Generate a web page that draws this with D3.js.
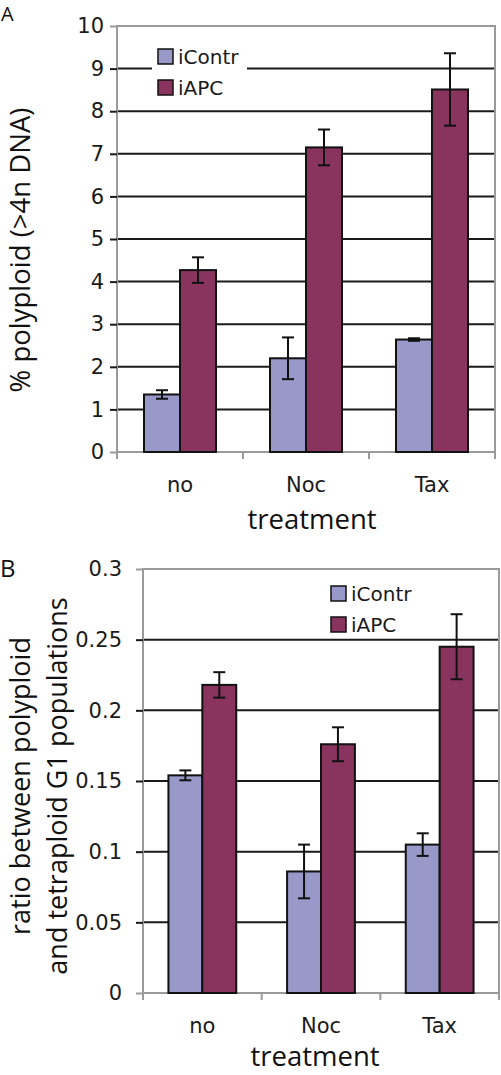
<!DOCTYPE html>
<html><head><meta charset="utf-8">
<script src="https://cdn.jsdelivr.net/npm/d3@7/dist/d3.min.js"></script>
<style>html,body{margin:0;padding:0;background:#fff;}svg{display:block;}</style>
</head><body>
<script>
// ---- data ----
const categories = ["no", "Noc", "Tax"];
const seriesNames = ["iContr", "iAPC"];
const seriesColors = ["#9898c9", "#89345f"];

// Panel A: % polyploid (>4n DNA)
const aContr = [1.35, 2.2, 2.64];
const aContrErr = [0.1, 0.49, 0.03];
const aAPC = [4.27, 7.15, 8.51];
const aAPCErr = [0.3, 0.42, 0.85];
const aTicks = [0, 1, 2, 3, 4, 5, 6, 7, 8, 9, 10];
const aTickLabels = ["0", "1", "2", "3", "4", "5", "6", "7", "8", "9", "10"];

// Panel B: ratio between polyploid and tetraploid G1 populations
const bContr = [0.154, 0.086, 0.105];
const bContrErr = [0.0035, 0.019, 0.008];
const bAPC = [0.218, 0.176, 0.245];
const bAPCErr = [0.009, 0.012, 0.023];
const bTicks = [0, 0.05, 0.1, 0.15, 0.2, 0.25, 0.3];
const bTickLabels = ["0", "0.05", "0.1", "0.15", "0.2", "0.25", "0.3"];

const W = 501, H = 1075;
const svg = d3.select("body").append("svg").attr("width", W).attr("height", H);

const tickFont = "'DejaVu Sans', Verdana, sans-serif";
const titleFont = "'Open Sans', 'Noto Sans', sans-serif";

function panel(cfg) {
  const g = svg.append("g");
  const x0 = d3.scaleBand().domain(categories).range([cfg.left, cfg.right]);
  const bw = x0.bandwidth();
  const x1 = d3.scaleBand().domain(seriesNames).range([bw * 0.2143, bw * (1 - 0.2143)]);
  const y = d3.scaleLinear().domain([0, cfg.max]).range([cfg.bottom, cfg.top]);

  // gridlines
  g.append("g").selectAll("line").data(cfg.ticks.filter(t => t > 0 && t < cfg.max))
    .join("line")
    .attr("x1", cfg.left).attr("x2", cfg.right)
    .attr("y1", d => y(d)).attr("y2", d => y(d))
    .attr("stroke", "#1a1a1a").attr("stroke-width", 2);

  // plot border (gray)
  g.append("rect").attr("x", cfg.left).attr("y", cfg.top)
    .attr("width", cfg.right - cfg.left).attr("height", cfg.bottom - cfg.top)
    .attr("fill", "none").attr("stroke", "#9a9a9a").attr("stroke-width", 2);

  // y axis ticks + labels
  const yAxis = d3.axisLeft(y).tickValues(cfg.ticks)
    .tickFormat((d, i) => cfg.tickLabels[i]).tickSize(7).tickPadding(cfg.tickPad);
  const ya = g.append("g").attr("transform", `translate(${cfg.left},0)`).call(yAxis);
  ya.select(".domain").remove();
  ya.selectAll(".tick line").attr("stroke", (d) => (d === 0 || d === cfg.max) ? "#9a9a9a" : "#1a1a1a").attr("stroke-width", 2);
  ya.selectAll(".tick text").attr("font-family", tickFont).attr("font-size", cfg.tickSize).attr("fill", "#1a1a1a");

  // x axis category ticks (boundaries)
  const bounds = categories.map(c => x0(c)).concat([cfg.right]);
  g.append("g").selectAll("line").data(bounds).join("line")
    .attr("x1", d => d).attr("x2", d => d)
    .attr("y1", cfg.bottom).attr("y2", cfg.bottom + 7)
    .attr("stroke", "#9a9a9a").attr("stroke-width", 2);

  // category labels
  g.append("g").selectAll("text").data(categories).join("text")
    .attr("x", d => x0(d) + bw / 2).attr("y", cfg.catY)
    .attr("text-anchor", "middle").attr("font-family", tickFont).attr("font-size", cfg.tickSize)
    .attr("fill", "#1a1a1a").text(d => d);

  // bars
  const rows = [];
  categories.forEach((c, i) => {
    seriesNames.forEach((s, j) => {
      rows.push({ c, s, j, v: cfg.values[j][i], e: cfg.errors[j][i] });
    });
  });
  g.append("g").selectAll("rect").data(rows).join("rect")
    .attr("x", d => x0(d.c) + x1(d.s))
    .attr("y", d => y(d.v))
    .attr("width", x1.bandwidth())
    .attr("height", d => y(0) - y(d.v))
    .attr("fill", d => seriesColors[d.j])
    .attr("stroke", "#111").attr("stroke-width", 2);

  // error bars
  const eg = g.append("g").attr("stroke", "#111").attr("stroke-width", 2);
  rows.forEach(d => {
    const cx = x0(d.c) + x1(d.s) + x1.bandwidth() / 2;
    const hi = y(d.v + d.e), lo = y(d.v - d.e);
    eg.append("line").attr("x1", cx).attr("x2", cx).attr("y1", hi).attr("y2", lo);
    eg.append("line").attr("x1", cx - cfg.cap).attr("x2", cx + cfg.cap).attr("y1", hi).attr("y2", hi);
    eg.append("line").attr("x1", cx - cfg.cap).attr("x2", cx + cfg.cap).attr("y1", lo).attr("y2", lo);
  });

  // legend
  const lg = g.append("g");
  if (cfg.legendBg) {
    lg.append("rect").attr("x", cfg.legendBg[0]).attr("y", cfg.legendBg[1])
      .attr("width", cfg.legendBg[2]).attr("height", cfg.legendBg[3]).attr("fill", "#fff");
  }
  seriesNames.forEach((s, j) => {
    lg.append("rect").attr("x", cfg.legX).attr("y", cfg.legY + j * cfg.legStep)
      .attr("width", 15).attr("height", 15)
      .attr("fill", seriesColors[j]).attr("stroke", "#111").attr("stroke-width", 1.5);
    lg.append("text").attr("x", cfg.legX + 20).attr("y", cfg.legY + j * cfg.legStep + 15)
      .attr("font-family", tickFont).attr("font-size", cfg.legSize).attr("fill", "#1a1a1a").text(s);
  });

  // x title
  g.append("text").attr("x", cfg.xTitleX).attr("y", cfg.xTitleY).attr("text-anchor", "middle")
    .attr("font-family", titleFont).attr("font-size", cfg.titleSize).attr("fill", "#111").text("treatment");

  // y title
  cfg.yTitle.forEach((t, i) => {
    g.append("text")
      .attr("transform", `translate(${cfg.yTitleX[i]},${cfg.yTitleY}) rotate(-90)`)
      .attr("text-anchor", "middle").attr("font-family", titleFont).attr("font-size", cfg.yTitleSize)
      .attr("fill", "#111").text(t);
  });

  // panel letter
  g.append("text").attr("x", cfg.letterX).attr("y", cfg.letterY)
    .attr("font-family", titleFont).attr("font-size", cfg.letterSize).attr("fill", "#111").text(cfg.letter);
}

panel({
  left: 117, right: 495, top: 26, bottom: 452, max: 10,
  ticks: aTicks, tickLabels: aTickLabels, tickPad: 6, tickSize: 21,
  values: [aContr, aAPC], errors: [aContrErr, aAPCErr], cap: 6,
  catY: 492,
  legX: 158, legY: 49, legStep: 31, legSize: 20, legendBg: [152, 42, 95, 62],
  xTitleX: 312, xTitleY: 529, titleSize: 27.5,
  yTitle: ["% polyploid (>4n DNA)"], yTitleX: [30], yTitleY: 250, yTitleSize: 27.5,
  letter: "A", letterX: 1, letterY: 21, letterSize: 20
});

panel({
  left: 143, right: 499, top: 569, bottom: 993, max: 0.3,
  ticks: bTicks, tickLabels: bTickLabels, tickPad: 14, tickSize: 21,
  values: [bContr, bAPC], errors: [bContrErr, bAPCErr], cap: 6,
  catY: 1033,
  legX: 331, legY: 586, legStep: 31, legSize: 20, legendBg: null,
  xTitleX: 315, xTitleY: 1066, titleSize: 27.5,
  yTitle: ["ratio between polyploid", "and tetraploid G1 populations"], yTitleX: [30, 67], yTitleY: 786, yTitleSize: 27,
  letter: "B", letterX: 0, letterY: 577, letterSize: 24
});
</script>
</body></html>
